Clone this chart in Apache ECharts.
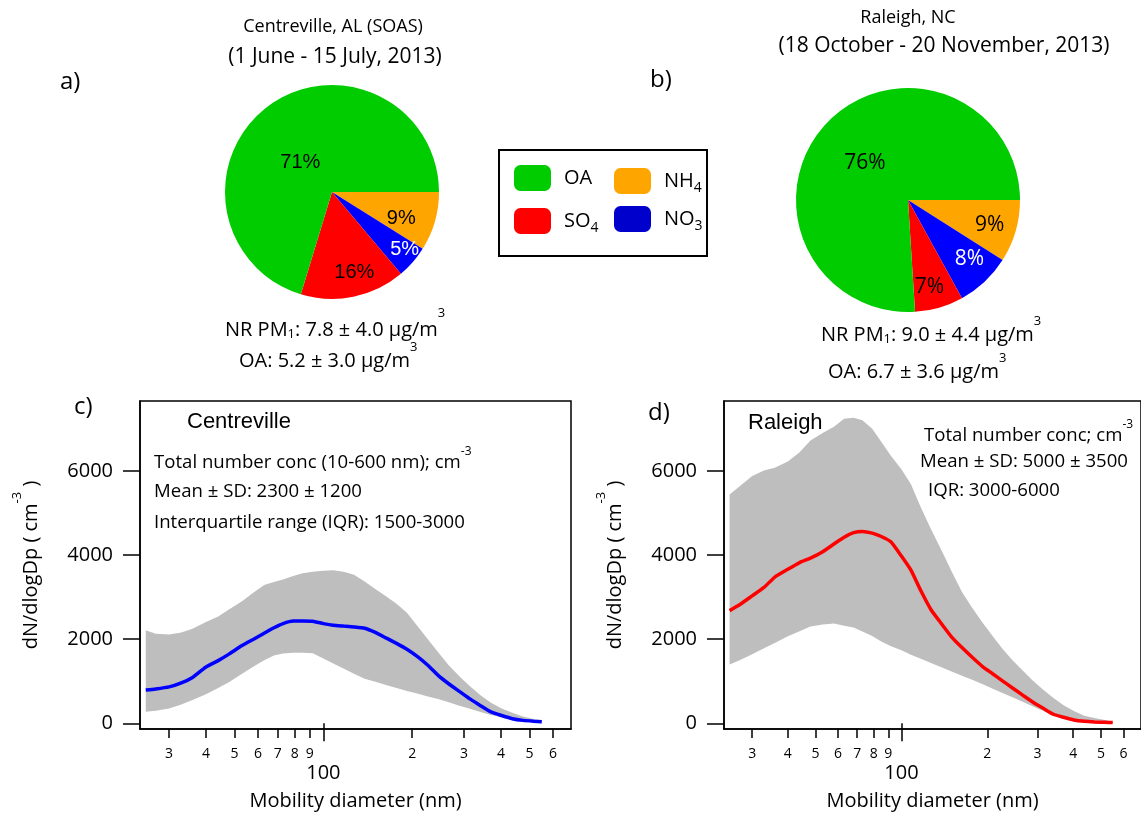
<!DOCTYPE html>
<html>
<head>
<meta charset="utf-8">
<title>Aerosol composition and size distributions</title>
<script src="https://cdn.jsdelivr.net/npm/echarts@6/dist/echarts.min.js"></script>
<style>
  html, body { margin: 0; padding: 0; background: #fff; }
  #main { width: 1141px; height: 813px; }
</style>
</head>
<body>
<div id="main"></div>
<script>
// pie data (percent of NR PM1), order: start at 3 o'clock, clockwise
const species = ['NH4', 'NO3', 'SO4', 'OA'];
const speciesColors = ['#FFA500', '#0000FF', '#FF0000', '#00CC00'];
const centrevillePct = [9, 5, 16, 71];
const raleighPct = [9, 8, 7, 76];

// size distributions, dN/dlogDp (cm-3) vs mobility diameter (nm)
const diameter = [25, 27, 30, 33, 36, 40, 44, 48, 53, 58, 63, 68, 73, 79, 85, 92, 100, 108, 117, 127,
  138, 150, 163, 177, 192, 208, 226, 245, 266, 289, 314, 341, 370, 402, 437, 475, 516, 550];
const centrevilleMean = [790, 815, 865, 960, 1090, 1340, 1490, 1650, 1850, 2000, 2140, 2270, 2370, 2430, 2430, 2425, 2370, 2330, 2310, 2290,
  2260, 2160, 2030, 1900, 1760, 1590, 1380, 1140, 940, 760, 580, 420, 270, 185, 110, 70, 50, 40];
const centrevilleUpper = [2213, 2130, 2110, 2160, 2250, 2410, 2540, 2710, 2900, 3110, 3285, 3360, 3420, 3500, 3565, 3600, 3625, 3636, 3600, 3530,
  3370, 3190, 3020, 2840, 2630, 2320, 2000, 1690, 1380, 1120, 880, 670, 490, 350, 250, 160, 105, 68];
const centrevilleLower = [275, 300, 355, 450, 555, 690, 840, 980, 1180, 1350, 1500, 1610, 1660, 1680, 1680, 1665, 1540, 1420, 1300, 1180,
  1060, 985, 910, 840, 770, 710, 640, 575, 500, 420, 345, 270, 200, 142, 105, 75, 44, 18];
const raleighMean = [2678, 2810, 3030, 3230, 3475, 3660, 3820, 3925, 4080, 4260, 4420, 4530, 4560, 4520, 4440, 4310, 3975, 3640, 3150, 2700,
  2370, 2050, 1800, 1570, 1355, 1185, 1010, 840, 670, 500, 356, 215, 143, 80, 48, 32, 24, 18];
const raleighUpper = [5438, 5620, 5880, 6010, 6075, 6220, 6440, 6720, 6900, 7050, 7240, 7262, 7200, 7000, 6690, 6350, 6040, 5680, 5130, 4610,
  4120, 3610, 3120, 2745, 2400, 2085, 1770, 1500, 1257, 1013, 800, 600, 430, 290, 180, 128, 77, 38];
const raleighLower = [1399, 1490, 1640, 1785, 1910, 2070, 2190, 2300, 2350, 2375, 2320, 2275, 2185, 2075, 1945, 1830, 1735, 1630, 1535, 1432,
  1330, 1230, 1130, 1035, 933, 830, 723, 621, 512, 400, 292, 207, 152, 95, 64, 42, 21, 5];

// axis ticks
const minorTicks = [30, 40, 50, 60, 70, 80, 90, 200, 300, 400, 500, 600];
const majorTicks = [100];
const yTicks = [0, 2000, 4000, 6000];

// label nudges for the pie percentages (dx, dy)
const labelNudgeA = [[15, 11], [30, 20], [11, 25], [2, 16]];
const labelNudgeB = [[25, 9], [21, 16], [5, 30], [0, 3]];

const FONT = 'Open Sans';
const ARIAL = 'Liberation Sans';

const rich = {
  sup17: { fontFamily: FONT, fontSize: 13, fill: '#000', padding: [0, 0, 34, 0] },
  sup14: { fontFamily: FONT, fontSize: 13, fill: '#000', padding: [0, 0, 28, 0] },
  sup11: { fontFamily: FONT, fontSize: 12, fill: '#000', padding: [0, 0, 22, 0] },
  sub: { fontFamily: FONT, fontSize: 13, fill: '#000', padding: [8, 0, 0, 0] }
};

function note(x, y, text, size, family, align) {
  return {
    type: 'text', x, y, silent: true,
    style: {
      text, fontFamily: family || FONT, fontSize: size, fill: '#000',
      align: align || 'left', verticalAlign: 'middle', rich
    }
  };
}

function pieSeries(center, radius, values, nudge, labelFont, labelSize) {
  return {
    type: 'pie',
    center, radius: [0, radius],
    startAngle: 0, clockwise: true,
    avoidLabelOverlap: false, silent: true,
    data: species.map((name, i) => ({
      name, value: values[i],
      itemStyle: { color: speciesColors[i] },
      label: { color: name === 'NO3' ? '#fff' : '#000' }
    })),
    label: { position: 'inside', formatter: '{c}%', fontFamily: labelFont, fontSize: labelSize },
    labelLine: { show: false },
    labelLayout: p => ({ dx: nudge[p.dataIndex][0], dy: nudge[p.dataIndex][1] })
  };
}

function sizeAxes(gridIndex) {
  const base = { type: 'log', logBase: 10, gridIndex, min: 23.9, max: 691, position: 'bottom', splitLine: { show: false } };
  return [
    Object.assign({}, base, {
      axisLine: { show: true, onZero: false, lineStyle: { color: '#000', width: 1.5 } },
      axisTick: { show: true, customValues: minorTicks, length: 9, lineStyle: { color: '#000', width: 1.5 } },
      axisLabel: { customValues: minorTicks, formatter: v => String(v).charAt(0), fontFamily: FONT, fontSize: 14, color: '#000', margin: 18 },
      name: 'Mobility diameter (nm)', nameLocation: 'middle', nameGap: 62,
      nameTextStyle: { fontFamily: FONT, fontSize: 20, color: '#000' }
    }),
    Object.assign({}, base, {
      axisLine: { show: false },
      axisTick: { show: true, customValues: majorTicks, length: 18, lineStyle: { color: '#000', width: 1.5 } },
      axisLabel: { customValues: majorTicks, formatter: v => String(v), fontFamily: FONT, fontSize: 20, color: '#000', margin: 34 }
    })
  ];
}

function countAxis(gridIndex) {
  return {
    type: 'value', gridIndex, min: -135, max: 7660,
    axisLine: { show: true, onZero: false, lineStyle: { color: '#000', width: 1.5 } },
    axisTick: { show: true, customValues: yTicks, length: 17, lineStyle: { color: '#000', width: 1.5 } },
    axisLabel: { customValues: yTicks, formatter: v => String(v), fontFamily: FONT, fontSize: 20, color: '#000', margin: 27 },
    splitLine: { show: false },
    name: 'dN/dlogDp ( cm{sup|-3} )', nameLocation: 'middle', nameRotate: 90, nameGap: 88,
    nameTextStyle: {
      fontFamily: FONT, fontSize: 20, color: '#000',
      rich: { sup: { fontFamily: FONT, fontSize: 13, color: '#000', padding: [0, 0, 28, 0] } }
    }
  };
}

// grey mean±SD envelope as a polygon drawn through the axes' own coordinates
function bandSeries(xAxisIndex, yAxisIndex, lower, upper, mean, color) {
  return [
    {
      type: 'custom', xAxisIndex, yAxisIndex, silent: true, z: 2,
      data: diameter.map((d, i) => [d, lower[i], upper[i]]),
      encode: { x: 0, y: [1, 2] },
      renderItem: (params, api) => {
        if (params.dataIndex !== 0) return null;
        const top = diameter.map((d, i) => api.coord([d, upper[i]]));
        const bottom = diameter.map((d, i) => api.coord([d, lower[i]])).reverse();
        return { type: 'polygon', shape: { points: top.concat(bottom) }, style: { fill: '#BEBEBE' } };
      }
    },
    {
      type: 'line', xAxisIndex, yAxisIndex, data: diameter.map((d, i) => [d, mean[i]]),
      symbol: 'none', smooth: 0.15, lineStyle: { color, width: 3.5 }, silent: true, z: 5
    }
  ];
}

const legendBase = {
  orient: 'vertical', padding: 0, itemWidth: 37, itemHeight: 26, icon: 'roundRect',
  selectedMode: false,
  formatter: name => name.replace(/(\d)/, '{sub|$1}'),
  textStyle: {
    fontFamily: FONT, fontSize: 20, color: '#000', padding: [0, 0, 0, 8],
    rich: { sub: { fontFamily: FONT, fontSize: 14, color: '#000', padding: [14, 0, 0, 0] } }
  }
};

const option = {
  animation: false,
  backgroundColor: '#fff',
  legend: [
    Object.assign({}, legendBase, { left: 514, top: 165, itemGap: 17, data: ['OA', 'SO4'] }),
    Object.assign({}, legendBase, { left: 614, top: 168, itemGap: 11, data: ['NH4', { name: 'NO3', itemStyle: { color: '#0000CC' } }] })
  ],
  grid: [
    { left: 140, top: 401, width: 431, height: 328, show: true, borderColor: '#000', borderWidth: 1.5, containLabel: false },
    { left: 724, top: 401, width: 427, height: 328, show: true, borderColor: '#000', borderWidth: 1.5, containLabel: false }
  ],
  xAxis: sizeAxes(0).concat(sizeAxes(1)),
  yAxis: [countAxis(0), countAxis(1)],
  series: [
    pieSeries([332, 192], 107, centrevillePct, labelNudgeA, ARIAL, 20),
    pieSeries([908, 200], 112, raleighPct, labelNudgeB, FONT, 21)
  ].concat(
    bandSeries(0, 0, centrevilleLower, centrevilleUpper, centrevilleMean, '#0000FF'),
    bandSeries(2, 1, raleighLower, raleighUpper, raleighMean, '#FF0000')
  ),
  graphic: [
    { type: 'rect', shape: { x: 499, y: 150, width: 208, height: 106 }, style: { fill: 'none', stroke: '#000', lineWidth: 2 }, silent: true },
    note(60, 82, 'a)', 24),
    note(650, 80, 'b)', 24),
    note(74, 407, 'c)', 24),
    note(648, 413, 'd)', 24),
    note(333, 27, 'Centreville, AL (SOAS)', 18, FONT, 'center'),
    note(335, 57, '(1 June - 15 July, 2013)', 21, FONT, 'center'),
    note(908, 18, 'Raleigh, NC', 18, FONT, 'center'),
    note(944, 46, '(18 October - 20 November, 2013)', 21, FONT, 'center'),
    note(225, 330, 'NR PM{sub|1}: 7.8 ± 4.0 μg/m{sup17|3}', 20),
    note(239, 361, 'OA: 5.2 ± 3.0 μg/m{sup14|3}', 20),
    note(821, 335, 'NR PM{sub|1}: 9.0 ± 4.4 μg/m{sup14|3}', 20),
    note(828, 372, 'OA: 6.7 ± 3.6 μg/m{sup14|3}', 20),
    note(187, 422, 'Centreville', 22, ARIAL),
    note(154, 463, 'Total number conc (10-600 nm); cm{sup11|-3}', 18.6),
    note(154, 492, 'Mean ± SD: 2300 ± 1200', 18.6),
    note(154, 523, 'Interquartile range (IQR): 1500-3000', 18.6),
    note(748, 423, 'Raleigh', 22, ARIAL),
    note(924, 436, 'Total number conc; cm{sup11|-3}', 18.6),
    note(920, 462, 'Mean ± SD: 5000 ± 3500', 18.6),
    note(928, 491, 'IQR: 3000-6000', 18.6)
  ]
};

const chart = echarts.init(document.getElementById('main'), null, { width: 1141, height: 813 });
chart.setOption(option);
</script>
</body>
</html>
